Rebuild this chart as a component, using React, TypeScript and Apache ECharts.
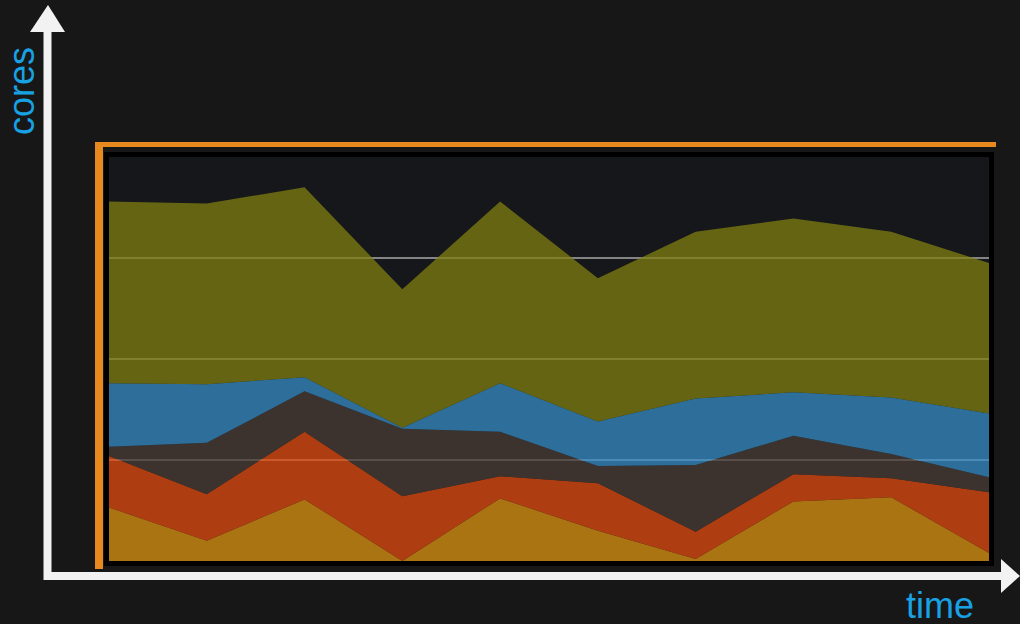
import React, { useEffect, useRef } from "react";
import * as echarts from "echarts";

const times = ["t1", "t2", "t3", "t4", "t5", "t6", "t7", "t8", "t9", "t10"];
const seriesNames = ["gold", "red", "dark", "blue", "olive"];
const goldValues = [53, 20, 61, 0, 62, 30, 2, 59, 63, 8];
const redValues = [51, 46, 67, 64, 22, 47, 27, 27, 19, 60];
const darkValues = [9, 51, 40, 67, 44, 17, 66, 38, 24, 15];
const blueValues = [63, 58, 14, 1, 48, 44, 66, 43, 56, 63];
const oliveValues = [180, 179, 188, 137, 180, 142, 165, 172, 164, 149];
const yTicks = [0, 100, 200, 300, 400];

const seriesColors = ["#dd9412", "#e14b0f", "#4a3e37", "#368cc7", "#807f11"];

export default function App() {
  const ref = useRef<HTMLDivElement>(null);
  useEffect(() => {
    document.body.style.margin = "0";
    if (!ref.current) return;
    const chart = echarts.init(ref.current, undefined, { renderer: "svg" });
    const allValues = [goldValues, redValues, darkValues, blueValues, oliveValues];
    const chalk = "#f2f2f2";
    const orange = "#e8891f";
    const blueText = "#18a2e4";
    chart.setOption({
      animation: false,
      backgroundColor: "#171717",
      grid: {
        left: 109,
        top: 157,
        width: 880,
        height: 404,
        show: true,
        backgroundColor: "#15171a",
        borderWidth: 0,
      },
      xAxis: {
        type: "category",
        data: times,
        boundaryGap: false,
        show: false,
      },
      yAxis: {
        type: "value",
        min: yTicks[0],
        max: yTicks[yTicks.length - 1],
        interval: 100,
        axisLabel: { show: false },
        axisLine: { show: false },
        axisTick: { show: false },
        splitLine: {
          show: true,
          showMinLine: false,
          showMaxLine: false,
          lineStyle: { color: "#aaaaaa", width: 1.5 },
        },
      },
      series: allValues.map((vals, i) => ({
        name: seriesNames[i],
        type: "line",
        stack: "total",
        data: vals,
        symbol: "none",
        lineStyle: { width: 0 },
        areaStyle: { color: seriesColors[i], opacity: 0.75 },
        z: 2,
      })),
      graphic: [
        {
          type: "rect",
          shape: { x: 106.5, y: 154.5, width: 885, height: 409 },
          style: { fill: "none", stroke: "#000000", lineWidth: 5 },
          z: 10,
        },
        {
          type: "line",
          shape: { x1: 95, y1: 144.5, x2: 996, y2: 144.5 },
          style: { stroke: orange, lineWidth: 5 },
          z: 10,
        },
        {
          type: "line",
          shape: { x1: 99, y1: 142, x2: 99, y2: 569 },
          style: { stroke: orange, lineWidth: 8 },
          z: 10,
        },
        {
          type: "line",
          shape: { x1: 47.5, y1: 28, x2: 47.5, y2: 580 },
          style: { stroke: chalk, lineWidth: 8 },
          z: 10,
        },
        {
          type: "polygon",
          shape: { points: [[48, 5], [30, 32], [65, 32]] },
          style: { fill: chalk },
          z: 10,
        },
        {
          type: "line",
          shape: { x1: 44, y1: 576, x2: 1004, y2: 576 },
          style: { stroke: chalk, lineWidth: 8 },
          z: 10,
        },
        {
          type: "polygon",
          shape: { points: [[1020, 576], [1001, 559], [1001, 593]] },
          style: { fill: chalk },
          z: 10,
        },
        {
          type: "text",
          x: 21,
          y: 91,
          rotation: Math.PI / 2,
          style: {
            text: "cores",
            fill: blueText,
            font: "36px 'Liberation Sans', Arial, sans-serif",
            textAlign: "center",
            textVerticalAlign: "middle",
          },
          z: 10,
        },
        {
          type: "text",
          x: 940,
          y: 605,
          style: {
            text: "time",
            fill: blueText,
            font: "36px 'Liberation Sans', Arial, sans-serif",
            textAlign: "center",
            textVerticalAlign: "middle",
          },
          z: 10,
        },
      ],
    });
    return () => chart.dispose();
  }, []);
  return <div ref={ref} style={{ width: 1020, height: 624 }} />;
}
